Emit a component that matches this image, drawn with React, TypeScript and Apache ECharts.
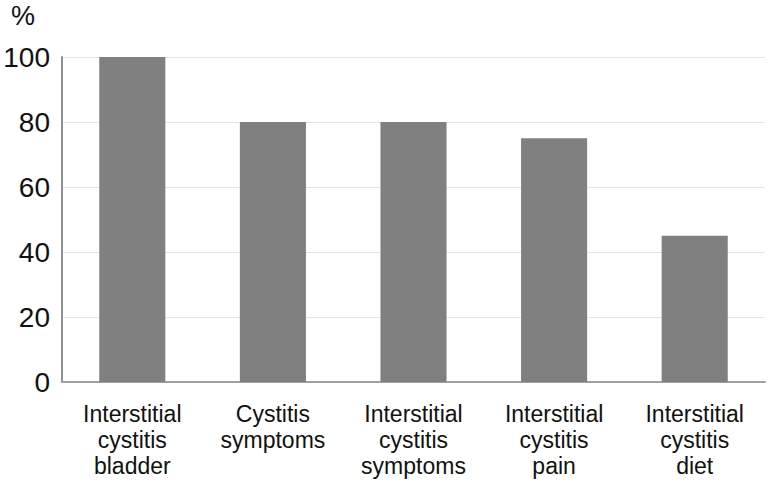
import React, { useEffect, useRef } from "react";
import * as echarts from "echarts";

const categories = [
  "Interstitial\ncystitis\nbladder",
  "Cystitis\nsymptoms",
  "Interstitial\ncystitis\nsymptoms",
  "Interstitial\ncystitis\npain",
  "Interstitial\ncystitis\ndiet",
];
const values = [100, 80, 80, 75, 45];
const yTicks = [0, 20, 40, 60, 80, 100];

const FONT = "Liberation Sans, Arial, sans-serif";

export default function App() {
  const ref = useRef<HTMLDivElement>(null);
  useEffect(() => {
    if (!ref.current) return;
    const chart = echarts.init(ref.current, null, { renderer: "svg" });
    chart.setOption({
      animation: false,
      backgroundColor: "#ffffff",
      textStyle: { fontFamily: FONT },
      graphic: [
        {
          type: "text",
          left: 11,
          top: 2,
          style: { text: "%", fontSize: 27, fill: "#111", fontFamily: FONT },
        },
      ],
      grid: { left: 62, right: 3, top: 57, bottom: 106, containLabel: false },
      xAxis: {
        type: "category",
        data: categories,
        axisLine: { show: true, lineStyle: { color: "#a0a0a0", width: 2 } },
        axisTick: { show: false },
        axisLabel: {
          interval: 0,
          fontSize: 23,
          lineHeight: 26,
          color: "#111",
          margin: 19,
        },
      },
      yAxis: {
        type: "value",
        min: 0,
        max: yTicks[yTicks.length - 1],
        interval: 20,
        axisLine: { show: true, lineStyle: { color: "#909090", width: 2 } },
        axisTick: { show: false },
        splitLine: { show: true, lineStyle: { color: "#e4e4e4", width: 1 } },
        axisLabel: { fontSize: 28, color: "#111", margin: 12 },
      },
      series: [
        {
          type: "bar",
          data: values,
          barWidth: "47%",
          itemStyle: { color: "#808080" },
        },
      ],
    });
    return () => chart.dispose();
  }, []);
  return <div ref={ref} style={{ width: 768, height: 488, position: "absolute", left: 0, top: 0 }} />;
}
